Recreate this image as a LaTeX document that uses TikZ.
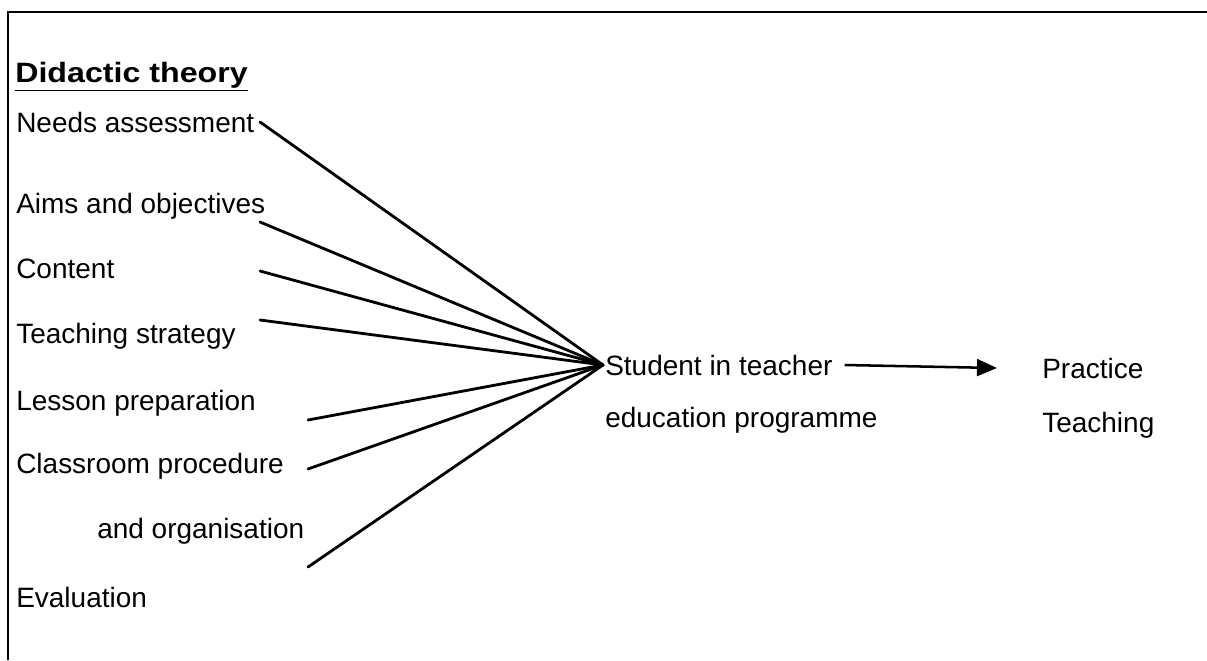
\documentclass[tikz,border=0pt]{standalone}
\usepackage{fontspec}
\setmainfont{Liberation Sans}
\usepackage{tikz}
\usetikzlibrary{arrows.meta}
\usetikzlibrary{positioning}
\tikzset{
    item/.style={anchor=base west, inner sep=0pt, font=\fontsize{19.9}{24}\selectfont},
    spoke/.style={draw=black, line width=2pt, line cap=round},
    flow/.style={draw=black, line width=1.8pt, -{Triangle[length=0.5cm, width=0.42cm]}},
    frame/.style={draw=black, line width=1pt},
}
\begin{document}
\begin{tikzpicture}[x=0.025cm, y=-0.025cm]
	\useasboundingbox (0,0) rectangle (1207,660);
	\draw[frame] (8,660) -- (8,12) -- (1207,12);
	% left column
	\node[item] (did) at (15,82) {\scalebox{1.15}[1]{\textbf{\underline{Didactic theory}}}};
	\node[item] (need) at (16,132) {Needs assessment};
	\node[item] (aims) at (16,213) {Aims and objectives};
	\node[item] (cont) at (16,278) {Content};
	\node[item] (strat) at (16,343) {Teaching strategy};
	\node[item] (less) at (16,410) {Lesson preparation};
	\node[item] (class) at (16,473) {Classroom procedure};
	\node[item] (orga) at (97,538) {and organisation};
	\node[item] (eval) at (16,607) {Evaluation};
	% middle and right
	\node[item] (stu) at (605,375) {Student in teacher};
	\node[item] (edu) at (605,427) {education programme};
	\node[item] (prac) at (1042,378) {Practice};
	\node[item] (tch) at (1042,432) {Teaching};
	% free ends of the spokes
	\coordinate (s1) at (260,122);
	\coordinate (s2) at (260,222);
	\coordinate (s3) at (260,271);
	\coordinate (s4) at (260,320);
	\coordinate (s5) at (308,420);
	\coordinate (s6) at (308,469);
	\coordinate (s7) at (308,567);
	\foreach \s in {s1,s2,s3,s4,s5,s6,s7}
		\draw[spoke] (\s) -- ([xshift=-0.05cm]stu.west);
	\draw[flow] ([xshift=0.3cm]stu.east) -- ([xshift=-1.125cm]prac.west);
\end{tikzpicture}
\end{document}
